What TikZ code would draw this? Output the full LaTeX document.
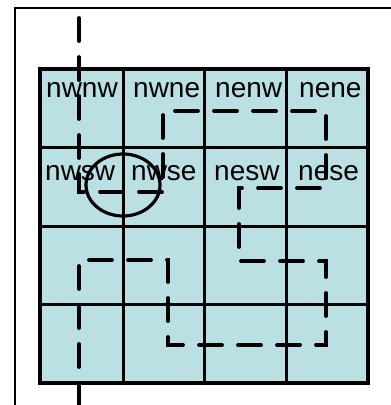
\documentclass[tikz,border=0pt]{standalone}
\usepackage{fontspec}
\setmainfont{Liberation Sans}
\definecolor{cellfill}{RGB}{187,224,227}
\begin{document}
\begin{tikzpicture}[x=1pt,y=-1pt,
  lbl/.style={anchor=base west,inner sep=0pt,font=\fontsize{28}{32}\selectfont},
  gridline/.style={line width=3pt},
  outerline/.style={line width=4.6pt},
  curve/.style={line width=3.8pt,line cap=round,dash pattern=on 23pt off 16pt},
  frame/.style={line width=2.4pt}]
\useasboundingbox (0,0) rectangle (391,405);
% frame
\draw[frame] (15,410) -- (15,8) -- (400,8);
% grid fill
\fill[cellfill] (40,69) rectangle (368,383);
% labels
\node[lbl] (nwnw) at (46,97) {nwnw};
\node[lbl] (nwne) at (133,97) {nwne};
\node[lbl] (nenw) at (215,97) {nenw};
\node[lbl] (nene) at (299,97) {nene};
\node[lbl] (nwsw) at (45,180) {nwsw};
\node[lbl] (nwse) at (131,180) {nwse};
\node[lbl] (nesw) at (214,180) {nesw};
\node[lbl] (nese) at (298,180) {nese};
% grid lines
\draw[gridline] (123,69) -- (123,383) (204,69) -- (204,383) (286,69) -- (286,383);
\draw[gridline] (40,147) -- (368,147) (40,226) -- (368,226) (40,304) -- (368,304);
\draw[outerline] (40,69) rectangle (368,383);
% curve
\coordinate (p0) at (79,18);
\coordinate (p1) at (79,192);
\coordinate (p2) at (163,192);
\coordinate (p3) at (163,111);
\coordinate (p4) at (326,111);
\coordinate (p5) at (326,188);
\coordinate (p6) at (239,188);
\coordinate (p7) at (239,261);
\coordinate (p8) at (326,261);
\coordinate (p9) at (326,345);
\coordinate (p10) at (168,345);
\coordinate (p11) at (168,260);
\coordinate (p12) at (79,260);
\coordinate (p13) at (79,410);
\draw[curve] (p0) -- (p1) -- (p2) -- (p3) -- (p4) -- (p5) -- (p6) -- (p7) -- (p8) -- (p9) -- (p10) -- (p11) -- (p12) -- (p13);
% ellipse
\draw[line width=3.2pt] (123,185) ellipse [x radius=37, y radius=31];
\end{tikzpicture}
\end{document}
